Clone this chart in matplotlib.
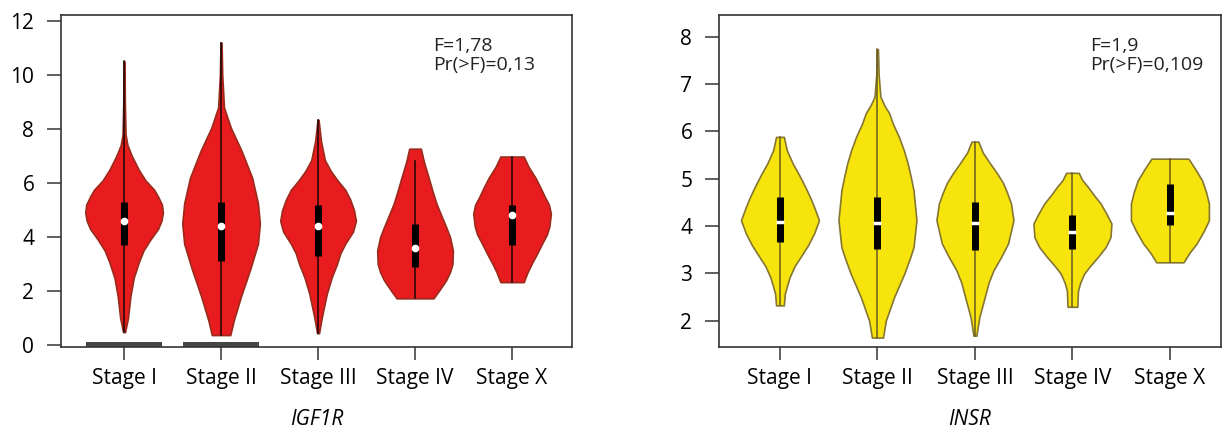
"""Violin plots of IGF1R and INSR expression by tumour stage."""

import matplotlib
matplotlib.use('Agg')
import matplotlib.pyplot as plt
import numpy as np

plt.rcParams['font.family'] = ['Open Sans', 'DejaVu Sans']

STAGES = ['Stage I', 'Stage II', 'Stage III', 'Stage IV', 'Stage X']

# density profiles: (expression value, half width)
IGF1R_PROFILES = [
    [(0.48, 0.01), (1.0, 0.04), (1.8, 0.065), (2.5, 0.10), (3.1, 0.155), (3.5, 0.20),
     (3.9, 0.27), (4.3, 0.35), (4.6, 0.385), (4.9, 0.40), (5.2, 0.39), (5.5, 0.35),
     (5.75, 0.31), (6.1, 0.22), (6.5, 0.15), (7.0, 0.08), (7.4, 0.035), (7.8, 0.015),
     (9.0, 0.008), (10.5, 0.005)],
    [(0.37, 0.095), (0.9, 0.13), (1.8, 0.205), (2.8, 0.30), (3.75, 0.38), (4.5, 0.40),
     (5.25, 0.38), (6.2, 0.32), (7.2, 0.21), (8.05, 0.10), (8.8, 0.03), (10.0, 0.012),
     (11.2, 0.005)],
    [(0.44, 0.01), (1.05, 0.04), (1.9, 0.09), (2.5, 0.14), (3.0, 0.195), (3.4, 0.23),
     (3.75, 0.28), (4.2, 0.36), (4.6, 0.39), (5.0, 0.37), (5.4, 0.33), (5.75, 0.28),
     (6.1, 0.20), (6.45, 0.13), (6.85, 0.07), (7.55, 0.03), (8.34, 0.005)],
    [(1.73, 0.19), (2.03, 0.25), (2.4, 0.32), (2.7, 0.36), (3.0, 0.385), (3.5, 0.39),
     (4.0, 0.36), (4.37, 0.32), (4.8, 0.27), (5.24, 0.22), (5.7, 0.18), (6.2, 0.14),
     (6.8, 0.09), (7.27, 0.06)],
    [(2.33, 0.12), (2.7, 0.16), (3.03, 0.205), (3.4, 0.26), (3.76, 0.31), (4.1, 0.36),
     (4.4, 0.385), (4.87, 0.40), (5.2, 0.38), (5.47, 0.34), (5.85, 0.29), (6.2, 0.24),
     (6.6, 0.17), (6.98, 0.12)],
]
IGF1R_Q1 = [3.7, 3.1, 3.3, 2.88, 3.69]
IGF1R_MEDIAN = [4.58, 4.4, 4.4, 3.58, 4.8]
IGF1R_Q3 = [5.3, 5.3, 5.2, 4.5, 5.17]
IGF1R_WHISKER_TOP = [10.5, 11.2, 8.34, 6.83, 6.98]

INSR_PROFILES = [
    [(2.32, 0.04), (2.57, 0.05), (2.75, 0.075), (2.92, 0.10), (3.15, 0.15), (3.34, 0.21),
     (3.6, 0.29), (3.84, 0.35), (4.12, 0.40), (4.4, 0.35), (4.6, 0.31), (4.82, 0.26),
     (5.1, 0.19), (5.32, 0.13), (5.6, 0.07), (5.88, 0.04)],
    [(1.64, 0.057), (2.0, 0.086), (2.49, 0.17), (2.99, 0.275), (3.3, 0.33), (3.55, 0.37),
     (4.12, 0.40), (4.75, 0.37), (5.05, 0.34), (5.32, 0.31), (5.6, 0.27), (5.88, 0.22),
     (6.15, 0.16), (6.38, 0.12), (6.55, 0.07), (6.73, 0.03), (7.2, 0.012),
     (7.73, 0.005)],
    [(1.68, 0.015), (2.07, 0.045), (2.49, 0.10), (2.8, 0.14), (3.06, 0.19), (3.35, 0.27),
     (3.63, 0.34), (4.12, 0.395), (4.47, 0.37), (4.7, 0.33), (4.9, 0.29), (5.1, 0.23),
     (5.32, 0.155), (5.55, 0.08), (5.78, 0.035)],
    [(2.29, 0.05), (2.63, 0.057), (2.8, 0.08), (2.99, 0.12), (3.15, 0.18), (3.34, 0.26),
     (3.55, 0.34), (3.76, 0.39), (4.05, 0.40), (4.25, 0.35), (4.47, 0.29), (4.65, 0.22),
     (4.82, 0.16), (4.97, 0.10), (5.12, 0.065)],
    [(3.23, 0.14), (3.43, 0.2), (3.63, 0.275), (3.9, 0.35), (4.12, 0.40), (4.47, 0.40),
     (4.72, 0.37), (4.96, 0.33), (5.2, 0.26), (5.42, 0.19)],
]
INSR_Q1 = [3.66, 3.52, 3.48, 3.52, 4.01]
INSR_MEDIAN = [4.08, 4.07, 4.05, 3.87, 4.27]
INSR_Q3 = [4.61, 4.61, 4.5, 4.22, 4.89]

# grey blocks sitting on the zero line of the IGF1R panel
IGF1R_ZERO_BLOCKS = [1, 2]


def draw_violins(ax, profiles, q1, med, q3, whisker_top, face, edge, line,
                 dot=True):
    for i, prof in enumerate(profiles):
        pos = i + 1
        ys = np.array([p[0] for p in prof])
        hw = np.array([p[1] for p in prof])
        ax.fill_betweenx(ys, pos - hw, pos + hw, facecolor=face,
                         edgecolor=edge, linewidth=1.2, zorder=2)
        ax.plot([pos, pos], [ys[0], whisker_top[i]], color=line,
                lw=1.1, zorder=3)
        ax.plot([pos, pos], [q1[i], q3[i]], color='black', lw=5,
                solid_capstyle='butt', zorder=4)
        if dot:
            ax.plot(pos, med[i], 'o', color='white', ms=4.5, mec='white',
                    zorder=5)
        else:
            ax.plot(pos, med[i], '_', color='white', ms=6, mew=2.5, zorder=5)


def style_axes(ax, title):
    ax.set_xticks(range(1, 6))
    ax.set_xticklabels(STAGES, fontsize=15)
    ax.tick_params(axis='y', labelsize=15, length=10, width=1.2, pad=9,
                   color='#444444')
    ax.tick_params(axis='x', length=9, width=1.2, pad=6, color='#444444')
    for s in ax.spines.values():
        s.set_color('#333333')
        s.set_linewidth(1.2)
    ax.set_xlabel(title, style='italic', fontsize=15, labelpad=14)


fig = plt.figure(figsize=(12.22, 4.33), dpi=100)

ax1 = fig.add_axes([0.0497, 0.1975, 0.4187, 0.7672])
draw_violins(ax1, IGF1R_PROFILES, IGF1R_Q1, IGF1R_MEDIAN, IGF1R_Q3,
             IGF1R_WHISKER_TOP, '#e81c1e', '#9a2a1c', '#1a0505')
ax1.bar(IGF1R_ZERO_BLOCKS, [0.21] * len(IGF1R_ZERO_BLOCKS), width=0.79,
        bottom=-0.09, color='#454545', zorder=2)
ax1.set_xlim(0.347, 5.622)
ax1.set_ylim(-0.09, 12.21)
ax1.set_yticks([0, 2, 4, 6, 8, 10, 12])
style_axes(ax1, 'IGF1R')
ax1.text(0.728, 0.935, 'F=1,78\nPr(>F)=0,13', transform=ax1.transAxes,
         va='top', ha='left', fontsize=14, linespacing=1.05, color='#222222')

insr_tops = [p[-1][0] for p in INSR_PROFILES]
ax2 = fig.add_axes([0.5881, 0.1975, 0.411, 0.7672])
draw_violins(ax2, INSR_PROFILES, INSR_Q1, INSR_MEDIAN, INSR_Q3,
             insr_tops, '#f7e40c', '#857632', '#6b5a1e', dot=False)
ax2.set_xlim(0.371, 5.523)
ax2.set_ylim(1.43, 8.45)
ax2.set_yticks([2, 3, 4, 5, 6, 7, 8])
style_axes(ax2, 'INSR')
ax2.text(0.74, 0.935, 'F=1,9\nPr(>F)=0,109', transform=ax2.transAxes,
         va='top', ha='left', fontsize=14, linespacing=1.05, color='#222222')

fig.savefig('out.png', dpi=100)
